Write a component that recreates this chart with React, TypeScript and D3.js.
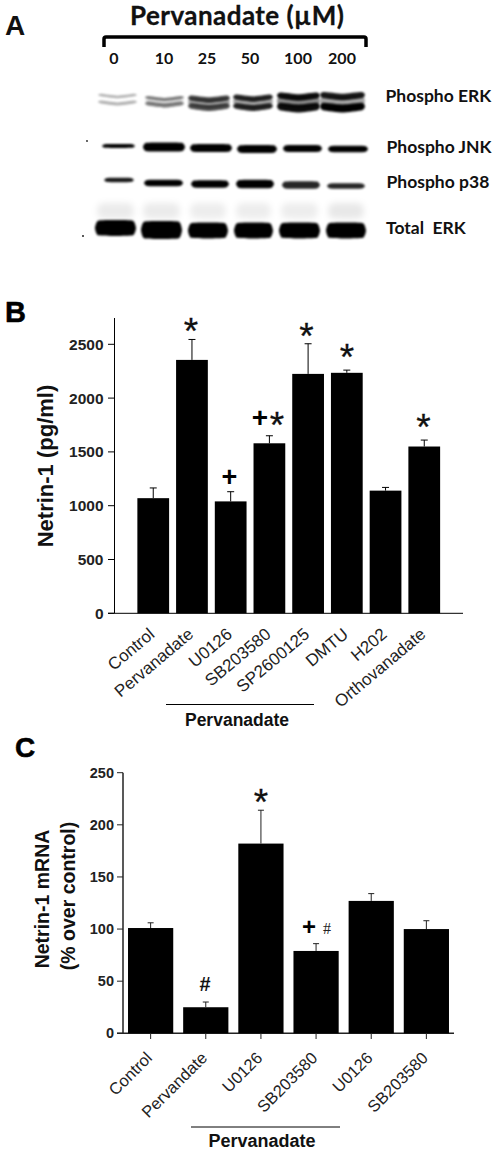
import React from "react";
import * as d3 from "d3";

const W = 498, H = 1152;
const SANS = "'Liberation Sans', Arial, sans-serif";
const LATO = "Lato, 'Open Sans', sans-serif";

// Panel A
const doses = ["0", "10", "25", "50", "100", "200"];
const doseX = [114, 164, 207, 250, 298, 342];
const blotNames = ["Phospho ERK", "Phospho JNK", "Phospho p38", "Total  ERK"];
const blotNameX = [385.5, 386.5, 386.5, 386];
const blotNameY = [102, 153, 188, 234];
// each blot row: lane edges, band centre, thickness, darkness
const erkX0 = [98, 145, 188, 233, 277, 320];
const erkX1 = [137, 184, 230, 273, 320, 365];
const erkUpperY = [96, 98.5, 99, 98, 96.5, 96];
const erkUpperT = [2.5, 3, 5.5, 5.5, 6.5, 6.5];
const erkUpperO = [0.3, 0.5, 0.75, 0.85, 0.95, 0.9];
const erkLowerY = [103, 104.5, 107, 107, 107.5, 107.5];
const erkLowerT = [3, 4.5, 6, 6, 8, 8];
const erkLowerO = [0.3, 0.5, 0.7, 0.85, 0.95, 1];
const erkBetweenO = [0, 0.1, 0.35, 0.35, 0.45, 0.35];
const jnkX0 = [102, 143, 190, 237, 283, 328];
const jnkX1 = [135, 185, 232, 277, 322, 368];
const jnkY = [146, 147, 148, 149, 148.5, 149];
const jnkT = [4, 9, 8, 8, 7, 6.5];
const p38X0 = [104, 144, 191, 236, 282, 327];
const p38X1 = [134, 183, 229, 274, 320, 365];
const p38Y = [180, 183, 184, 184, 185, 186];
const p38T = [4.5, 6.5, 7.5, 8.5, 7.5, 5.5];
const p38O = [0.9, 1, 1, 1, 0.85, 0.85];
const totalX0 = [95, 141, 188, 234, 279, 326];
const totalX1 = [136, 182, 228, 273, 320, 366];
const totalY = [228, 230, 230.5, 230.5, 230.5, 230.5];
const totalT = [16, 18, 16, 16, 16, 16];
const hazeO = [0.08, 0.08, 0.07, 0.07, 0.07, 0.09];

// Panel B
const catB = ["Control", "Pervanadate", "U0126", "SB203580", "SP2600125", "DMTU", "H202", "Orthovanadate"];
const valB = [1070, 2355, 1040, 1580, 2225, 2235, 1140, 1550];
const errB = [1165, 2545, 1130, 1650, 2505, 2260, 1170, 1610];
const ticksB = [0, 500, 1000, 1500, 2000, 2500];

// Panel C
const catC = ["Control", "Pervandate", "U0126", "SB203580", "U0126", "SB203580"];
const valC = [101, 25, 182, 79, 127, 100];
const errC = [106, 30, 214, 86, 134, 108];
const ticksC = [0, 50, 100, 150, 200, 250];

function Band({ x0, x1, y, t, o = 1, sag = 0, f = "blot" }: { x0: number; x1: number; y: number; t: number; o?: number; sag?: number; f?: string }) {
  const m = (x0 + x1) / 2;
  const pts: [number, number][] = [
    [x0, y - sag], [x0 + 3, y - t * 0.46 - sag], [m, y - t * 0.5 + sag], [x1 - 3, y - t * 0.46 - sag], [x1, y - sag],
    [x1 - 3, y + t * 0.46 - sag], [m, y + t * 0.5 + sag], [x0 + 3, y + t * 0.46 - sag],
  ];
  const d = d3.line().curve(d3.curveCardinalClosed.tension(0.5))(pts) as string;
  return <path d={d} fill="#000" fillOpacity={o} filter={`url(#${f})`} />;
}

function Star({ x, y }: { x: number; y: number }) {
  return <text x={x} y={y + 2} textAnchor="middle" fontSize={37} fill="#111" stroke="#111" strokeWidth={0.3}>*</text>;
}

function PanelA() {
  return (
    <g>
      <text x={5} y={35} fontFamily={SANS} fontSize={28} fontWeight={700} fill="#111">A</text>
      <text x={130} y={25} fontFamily={LATO} fontSize={26} fontWeight={700} fill="#111" stroke="#111" strokeWidth={0.3} letterSpacing={0.45}>Pervanadate (µM)</text>
      <path d="M104,47V39Q104,37 106,37H364Q366,37 366,39V47" fill="none" stroke="#000" strokeWidth={3.5} />
      {doses.map((s, i) => (
        <text key={i} x={doseX[i]} y={64} textAnchor="middle" fontFamily={LATO} fontSize={16} fontWeight={700} fill="#111">{s}</text>
      ))}
      {doses.map((_, i) => (
        <g key={i}>
          <Band x0={erkX0[i]} x1={erkX1[i]} y={(erkUpperY[i] + erkLowerY[i]) / 2} t={erkLowerY[i] - erkUpperY[i]} o={erkBetweenO[i]} sag={1} />
          <Band x0={erkX0[i]} x1={erkX1[i]} y={erkUpperY[i]} t={erkUpperT[i]} o={erkUpperO[i]} sag={1} />
          <Band x0={erkX0[i]} x1={erkX1[i]} y={erkLowerY[i]} t={erkLowerT[i]} o={erkLowerO[i]} sag={1} />
          <Band x0={jnkX0[i]} x1={jnkX1[i]} y={jnkY[i]} t={jnkT[i]} />
          <Band x0={p38X0[i]} x1={p38X1[i]} y={p38Y[i]} t={p38T[i]} o={p38O[i]} />
          <Band x0={totalX0[i] + 2} x1={totalX1[i] - 2} y={211} t={16} o={hazeO[i]} f="haze" />
          <Band x0={totalX0[i]} x1={totalX1[i]} y={totalY[i]} t={totalT[i]} />
        </g>
      ))}
      <circle cx={87} cy={141} r={0.9} fill="#222" />
      <circle cx={83} cy={236} r={1} fill="#222" />
      {blotNames.map((s, i) => (
        <text key={i} x={blotNameX[i]} y={blotNameY[i]} fontFamily={LATO} fontSize={17.5} fontWeight={700} fill="#111" style={{ whiteSpace: "pre" }}>{s}</text>
      ))}
    </g>
  );
}

function PanelB() {
  const y = d3.scaleLinear().domain([0, 2500]).range([613.3, 344.3]);
  const x = d3.scaleBand().domain(catB.map((_, i) => String(i))).range([133.5, 444]).paddingInner(0.18).paddingOuter(0.1);
  return (
    <g fontFamily={SANS}>
      <text x={5} y={322} fontSize={29} fontWeight={700} fill="#000" stroke="#000" strokeWidth={0.5}>B</text>
      <line x1={114.5} x2={114.5} y1={318} y2={613.3} stroke="#000" strokeWidth={1} />
      <line x1={108} x2={463} y1={613.3} y2={613.3} stroke="#000" strokeWidth={1} />
      {ticksB.map((t) => (
        <g key={t}>
          <line x1={108} x2={114} y1={y(t)} y2={y(t)} stroke="#000" />
          <text x={103.5} y={y(t) + 5.5} textAnchor="end" fontSize={15.5} fontWeight={700} fill="#222">{t}</text>
        </g>
      ))}
      <text transform="translate(53,466) rotate(-90)" textAnchor="middle" fontSize={22} fontWeight={700} fill="#111">Netrin-1 (pg/ml)</text>
      {catB.map((c, i) => {
        const bx = x(String(i)) as number;
        const cx = bx + x.bandwidth() / 2;
        return (
          <g key={i}>
            <rect x={bx} y={y(valB[i])} width={x.bandwidth()} height={y(0) - y(valB[i])} fill="#000" />
            <line x1={cx} x2={cx} y1={y(valB[i])} y2={y(errB[i])} stroke="#000" />
            <line x1={cx - 3.5} x2={cx + 3.5} y1={y(errB[i])} y2={y(errB[i])} stroke="#000" />
            <text transform={`translate(${cx + 2.5},${636}) rotate(-40)`} textAnchor="end" fontSize={17} fill="#222">{c}</text>
          </g>
        );
      })}
      <Star x={191} y={342} />
      <text x={229.5} y={486} textAnchor="middle" fontSize={27} fontWeight={700} fill="#000">+</text>
      <text x={260} y={427} textAnchor="middle" fontSize={28} fontWeight={700} fill="#000">+</text>
      <Star x={277} y={436} />
      <Star x={306.5} y={347} />
      <Star x={347} y={368} />
      <Star x={423.5} y={438} />
      <line x1={166} x2={314} y1={704.5} y2={704.5} stroke="#000" />
      <text x={237} y={726} textAnchor="middle" fontSize={17.5} fontWeight={700} fill="#111">Pervanadate</text>
    </g>
  );
}

function PanelC() {
  const y = d3.scaleLinear().domain([0, 250]).range([1033.3, 772.7]);
  const x = d3.scaleBand().domain(catC.map((_, i) => String(i))).range([122.5, 454.5]).paddingInner(0.18).paddingOuter(0.1);
  return (
    <g fontFamily={SANS}>
      <text x={15} y={757} fontSize={28} fontWeight={700} fill="#000" stroke="#000" strokeWidth={0.5}>C</text>
      <line x1={123} x2={123} y1={772.7} y2={1033.3} stroke="#222" strokeWidth={1.5} />
      <line x1={117} x2={454} y1={1033.3} y2={1033.3} stroke="#222" strokeWidth={1.5} />
      {ticksC.map((t) => (
        <g key={t}>
          <line x1={117} x2={123} y1={y(t)} y2={y(t)} stroke="#222" />
          <text x={114} y={y(t) + 5} textAnchor="end" fontSize={14.5} fontWeight={700} fill="#222">{t}</text>
        </g>
      ))}
      <text transform="translate(49,899) rotate(-90)" textAnchor="middle" fontSize={19.5} fontWeight={700} fill="#111">Netrin-1 mRNA</text>
      <text transform="translate(75,896) rotate(-90)" textAnchor="middle" fontSize={19.5} fontWeight={700} fill="#111">(% over control)</text>
      {catC.map((c, i) => {
        const bx = x(String(i)) as number;
        const cx = bx + x.bandwidth() / 2;
        return (
          <g key={i}>
            <rect x={bx} y={y(valC[i])} width={x.bandwidth()} height={y(0) - y(valC[i])} fill="#000" />
            <line x1={cx} x2={cx} y1={y(valC[i])} y2={y(errC[i])} stroke="#222" />
            <line x1={cx - 3} x2={cx + 3} y1={y(errC[i])} y2={y(errC[i])} stroke="#222" />
            <line x1={cx} x2={cx} y1={1033} y2={1039} stroke="#222" />
            <text transform={`translate(${cx + 2.5},${1059}) rotate(-45)`} textAnchor="end" fontSize={16.5} fill="#222">{c}</text>
          </g>
        );
      })}
      <Star x={261} y={813} />
      <text x={205} y={991} textAnchor="middle" fontSize={20} fontWeight={700} fill="#111">#</text>
      <text x={309} y={935} textAnchor="middle" fontSize={24} fontWeight={700} fill="#000">+</text>
      <text x={327} y={934} textAnchor="middle" fontSize={16} fill="#222" fontFamily="'Liberation Serif', serif">#</text>
      <line x1={191} x2={340} y1={1127} y2={1127} stroke="#000" />
      <text x={262} y={1147} textAnchor="middle" fontSize={18} fontWeight={700} fill="#111">Pervanadate</text>
    </g>
  );
}

export default function App() {
  return (
    <svg width={W} height={H} viewBox={`0 0 ${W} ${H}`} style={{ position: "absolute", left: 0, top: 0, background: "#fff" }}>
      <defs>
        <filter id="blot" x="-20%" y="-200%" width="140%" height="500%">
          <feGaussianBlur stdDeviation="0.9" />
        </filter>
        <filter id="haze" x="-30%" y="-100%" width="160%" height="300%">
          <feGaussianBlur stdDeviation="3" />
        </filter>
      </defs>
      <PanelA />
      <PanelB />
      <PanelC />
    </svg>
  );
}
